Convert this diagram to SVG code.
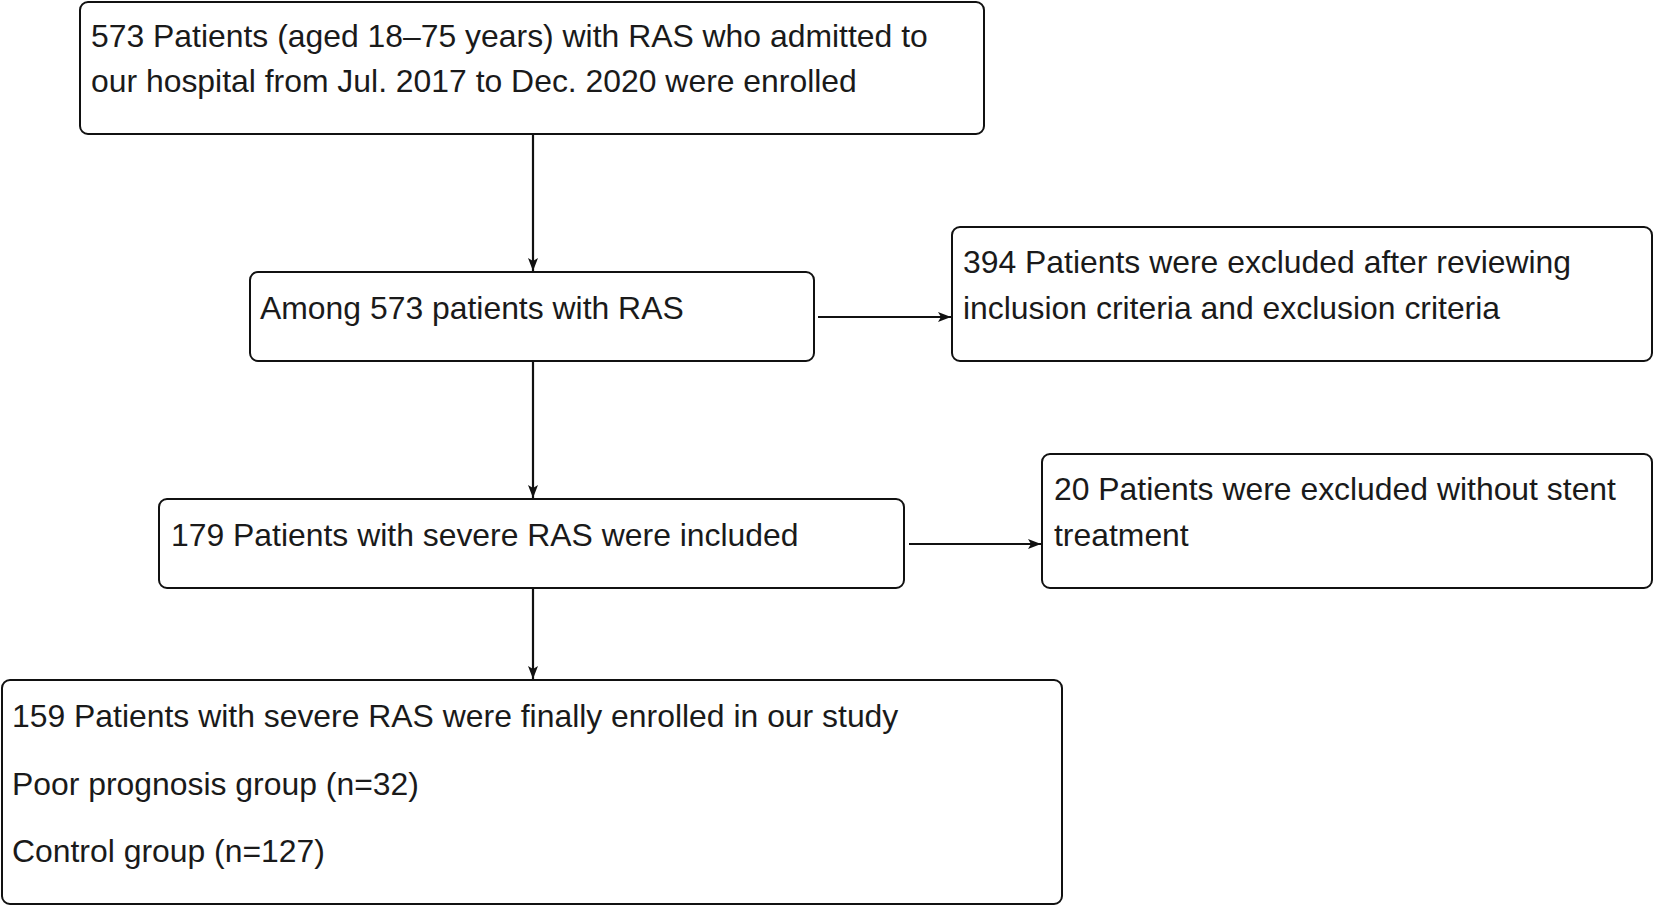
<svg xmlns="http://www.w3.org/2000/svg" width="1654" height="906" viewBox="0 0 1654 906">
<defs>
<style>
.box{fill:#fff;stroke:#111;stroke-width:2}
.t{font-family:"Liberation Sans",Arial,sans-serif;font-size:31.9px;fill:#1a1a1a}
.c{stroke:#111;stroke-width:2.2;fill:none}
</style>
<marker id="ah" markerWidth="14" markerHeight="12" refX="13" refY="6" orient="auto" markerUnits="userSpaceOnUse">
<path d="M0,1 L13,6 L0,11 L3,6 Z" fill="#111"/>
</marker>
</defs>
<rect width="1654" height="906" fill="#fff"/>
<g id="connectors">
<line class="c" x1="533" y1="135" x2="533" y2="271" marker-end="url(#ah)"/>
<line class="c" x1="533" y1="362" x2="533" y2="498" marker-end="url(#ah)"/>
<line class="c" x1="533" y1="589" x2="533" y2="679" marker-end="url(#ah)"/>
<line class="c" x1="818" y1="317" x2="951" y2="317" marker-end="url(#ah)"/>
<line class="c" x1="909" y1="544" x2="1041" y2="544" marker-end="url(#ah)"/>
</g>
<g id="n1">
<rect class="box" x="80" y="2" width="904" height="132" rx="8"/>
<text class="t" x="91" y="47">573 Patients (aged 18–75 years) with RAS who admitted to</text>
<text class="t" x="91" y="92">our hospital from Jul. 2017 to Dec. 2020 were enrolled</text>
</g>
<g id="n2">
<rect class="box" x="250" y="272" width="564" height="89" rx="8"/>
<text class="t" x="260" y="319">Among 573 patients with RAS</text>
</g>
<g id="n3">
<rect class="box" x="952" y="227" width="700" height="134" rx="8"/>
<text class="t" x="963" y="273">394 Patients were excluded after reviewing</text>
<text class="t" x="963" y="319">inclusion criteria and exclusion criteria</text>
</g>
<g id="n4">
<rect class="box" x="159" y="499" width="745" height="89" rx="8"/>
<text class="t" x="171" y="546">179 Patients with severe RAS were included</text>
</g>
<g id="n5">
<rect class="box" x="1042" y="454" width="610" height="134" rx="8"/>
<text class="t" x="1054" y="500">20 Patients were excluded without stent</text>
<text class="t" x="1054" y="546">treatment</text>
</g>
<g id="n6">
<rect class="box" x="2" y="680" width="1060" height="224" rx="8"/>
<text class="t" x="12" y="727">159 Patients with severe RAS were finally enrolled in our study</text>
<text class="t" x="12" y="795">Poor prognosis group (n=32)</text>
<text class="t" x="12" y="862">Control group (n=127)</text>
</g>
</svg>
